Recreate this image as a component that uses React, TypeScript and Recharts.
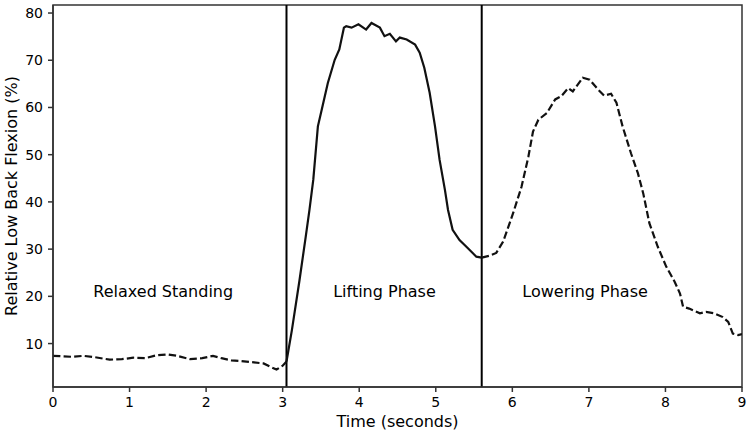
import { LineChart, Line, XAxis, YAxis, ReferenceLine, ReferenceArea, ReferenceDot, Label } from 'recharts';

// Relaxed standing (dashed), 0 – 3.05 s
const relaxedTime = [0, 0.12, 0.25, 0.4, 0.55, 0.74, 0.9, 1.05, 1.2, 1.35, 1.5, 1.62, 1.79, 1.95, 2.09, 2.2, 2.33, 2.45, 2.57, 2.75, 2.85, 2.92, 3.0, 3.05];
const relaxedFlexion = [7.4, 7.3, 7.2, 7.4, 7.1, 6.6, 6.7, 7.0, 6.9, 7.5, 7.7, 7.4, 6.7, 6.9, 7.4, 6.9, 6.45, 6.3, 6.1, 5.8, 5.0, 4.5, 5.3, 6.2];

// Lifting phase (solid), 3.05 – 5.6 s
const liftingTime = [3.05, 3.12, 3.22, 3.3, 3.35, 3.4, 3.46, 3.51, 3.59, 3.68, 3.74, 3.8, 3.83, 3.9, 3.99, 4.09, 4.16, 4.27, 4.33, 4.4, 4.48, 4.53, 4.62, 4.73, 4.79, 4.85, 4.92, 4.99, 5.05, 5.12, 5.16, 5.22, 5.31, 5.42, 5.53, 5.6];
const liftingFlexion = [6.2, 12.8, 23.4, 32.5, 38.3, 44.7, 56, 59.5, 65.2, 70.1, 72.3, 76.9, 77.2, 76.9, 77.6, 76.5, 77.9, 76.9, 75.1, 75.6, 74.0, 74.8, 74.4, 73.3, 71.6, 68.4, 63.1, 56, 48.9, 42.5, 38.3, 34.1, 31.9, 30.2, 28.4, 28.2];

// Lowering phase (dashed), 5.6 – 9 s
const loweringTime = [5.6, 5.7, 5.79, 5.88, 6.01, 6.12, 6.21, 6.27, 6.34, 6.45, 6.56, 6.64, 6.73, 6.79, 6.92, 7.01, 7.12, 7.2, 7.29, 7.36, 7.44, 7.55, 7.64, 7.71, 7.79, 7.9, 8.01, 8.12, 8.19, 8.23, 8.31, 8.45, 8.53, 8.64, 8.75, 8.82, 8.88, 8.95, 9.0];
const loweringFlexion = [28.2, 28.6, 29.2, 31.6, 37.6, 43.2, 49.6, 54.9, 57.4, 58.8, 61.7, 62.4, 64.1, 63.4, 66.3, 65.9, 63.8, 62.5, 62.9, 61.0, 56, 50.3, 46.1, 41.8, 35.5, 30.5, 26.3, 23.1, 20.6, 17.8, 17.4, 16.4, 16.7, 16.4, 15.6, 14.6, 12.1, 11.8, 12.0];

const phaseBounds = [3.05, 5.6];
const phaseLabels = ['Relaxed Standing', 'Lifting Phase', 'Lowering Phase'];
const phaseLabelX = [1.44, 4.33, 6.95];
const phaseLabelY = 21;

const xTicks = [0, 1, 2, 3, 4, 5, 6, 7, 8, 9];
const yTicks = [10, 20, 30, 40, 50, 60, 70, 80];

const FONT = '"DejaVu Sans", sans-serif';
const INK = '#111';
const SPINE = '#333';

const toPoints = (ts: number[], vs: number[]) => ts.map((t, i) => ({ t, v: vs[i] }));

export default function App() {
  const relaxed = toPoints(relaxedTime, relaxedFlexion);
  const lifting = toPoints(liftingTime, liftingFlexion);
  const lowering = toPoints(loweringTime, loweringFlexion);

  const tick = { fontSize: 14, fill: '#000', fontFamily: FONT };

  return (
    <div style={{ position: 'absolute', left: 0, top: 0, width: 749, height: 431, background: '#fff' }}>
      <LineChart width={749} height={431} margin={{ top: 5, right: 7, left: 0, bottom: 0 }}>
        <XAxis
          dataKey="t"
          type="number"
          domain={[0, 9]}
          ticks={xTicks}
          allowDataOverflow
          height={44}
          tick={tick}
          tickSize={5}
          tickMargin={5}
          stroke={SPINE}
          strokeWidth={1.5}
        >
          <Label
            content={({ viewBox }: any) => (
              <text
                x={viewBox.x + viewBox.width / 2}
                y={427}
                textAnchor="middle"
                fontSize={16}
                fontFamily={FONT}
                fill="#000"
              >
                Time (seconds)
              </text>
            )}
          />
        </XAxis>
        <YAxis
          type="number"
          domain={[0.8, 81.7]}
          ticks={yTicks}
          allowDataOverflow
          width={53}
          tick={tick}
          tickSize={5}
          tickMargin={5}
          stroke={SPINE}
          strokeWidth={1.5}
        >
          <Label
            content={({ viewBox }: any) => {
              const cy = viewBox.y + viewBox.height / 2;
              return (
                <text
                  x={16.5}
                  y={cy}
                  transform={`rotate(-90, 16.5, ${cy})`}
                  textAnchor="middle"
                  fontSize={16}
                  fontFamily={FONT}
                  fill="#000"
                >
                  Relative Low Back Flexion (%)
                </text>
              );
            }}
          />
        </YAxis>

        <ReferenceArea x1={0} x2={9} y1={0.8} y2={81.7} fill="none" stroke={SPINE} strokeWidth={1.5} ifOverflow="visible" />

        {phaseBounds.map((b) => (
          <ReferenceLine key={b} x={b} stroke="#000" strokeWidth={2} />
        ))}

        {phaseLabels.map((name, i) => (
          <ReferenceDot
            key={name}
            x={phaseLabelX[i]}
            y={phaseLabelY}
            r={0}
            fill="none"
            stroke="none"
            label={{ value: name, position: 'center', fontSize: 16, fill: '#000', fontFamily: FONT }}
          />
        ))}

        <Line data={relaxed} dataKey="v" type="linear" stroke={INK} strokeWidth={2.2} strokeDasharray="7.4 3.2" dot={false} activeDot={false} isAnimationActive={false} />
        <Line data={lifting} dataKey="v" type="linear" stroke={INK} strokeWidth={2.2} dot={false} activeDot={false} isAnimationActive={false} />
        <Line data={lowering} dataKey="v" type="linear" stroke={INK} strokeWidth={2.2} strokeDasharray="7.4 3.2" dot={false} activeDot={false} isAnimationActive={false} />
      </LineChart>
    </div>
  );
}
